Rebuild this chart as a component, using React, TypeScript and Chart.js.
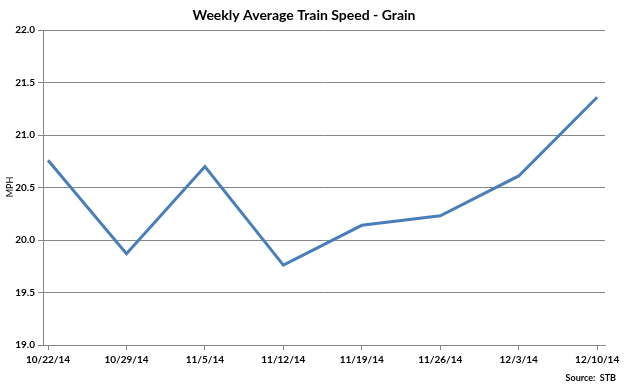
import React, { useEffect, useRef } from "react";
import { Chart, registerables } from "chart.js";

Chart.register(...registerables);

const categories = ["10/22/14", "10/29/14", "11/5/14", "11/12/14", "11/19/14", "11/26/14", "12/3/14", "12/10/14"];
const speeds = [20.76, 19.87, 20.7, 19.76, 20.14, 20.23, 20.61, 21.36];
const yTicks = [19.0, 19.5, 20.0, 20.5, 21.0, 21.5, 22.0];
const titleText = "Weekly Average Train Speed - Grain";
const sourceText = "Source:  STB";
const yAxisTitle = "MPH";

const FONT = "Lato, 'Liberation Sans', sans-serif";

export default function App() {
  const ref = useRef<HTMLCanvasElement | null>(null);
  useEffect(() => {
    document.body.style.margin = "0";
    const canvas = ref.current;
    if (!canvas) return;
    const textPlugin = {
      id: "texts",
      afterDraw(chart: any) {
        const ctx = chart.ctx;
        ctx.save();
        ctx.fillStyle = "#000";
        ctx.font = `bold 14px ${FONT}`;
        ctx.textAlign = "center";
        ctx.textBaseline = "middle";
        ctx.fillText(titleText, 304, 15);
        ctx.font = `bold 9px ${FONT}`;
        ctx.textAlign = "right";
        ctx.fillText(sourceText, 616, 378);
        ctx.translate(10, 187);
        ctx.rotate(-Math.PI / 2);
        ctx.textAlign = "center";
        ctx.font = `9px ${FONT}`;
        ctx.fillText(yAxisTitle, 0, 0);
        ctx.restore();
      },
    };
    const chart = new Chart(canvas, {
      type: "line",
      data: {
        datasets: [
          {
            data: speeds.map((v, i) => ({ x: i, y: v })),
            borderColor: "#4A7EBB",
            borderWidth: 3,
            pointRadius: 0,
            tension: 0,
            fill: false,
          },
        ],
      },
      options: {
        animation: false,
        responsive: false,
        maintainAspectRatio: false,
        layout: { padding: { top: 30, right: 23, bottom: 0, left: 0 } },
        plugins: { legend: { display: false }, title: { display: false }, tooltip: { enabled: false } },
        scales: {
          x: {
            type: "linear",
            min: -0.064,
            max: 7.1,
            afterBuildTicks(scale: any) {
              scale.ticks = categories.map((_, i) => ({ value: i }));
            },
            afterFit(scale: any) {
              scale.height = 43;
            },
            ticks: {
              autoSkip: false,
              maxRotation: 0,
              color: "#000",
              font: { family: FONT, size: 10, weight: "bold" },
              padding: 4,
              callback: (v: any) => categories[Math.round(Number(v))] ?? "",
            },
            grid: { display: true, drawOnChartArea: false, color: "#868686", tickLength: 5 },
            border: { display: true, color: "#868686", width: 1 },
          },
          y: {
            min: 19,
            max: 22,
            afterBuildTicks(scale: any) {
              scale.ticks = yTicks.map((v) => ({ value: v }));
            },
            afterFit(scale: any) {
              scale.width = 43;
            },
            ticks: {
              color: "#000",
              font: { family: FONT, size: 10, weight: "bold" },
              padding: 3,
              callback: (v: any) => Number(v).toFixed(1),
            },
            grid: { color: "#868686", lineWidth: 1, tickLength: 5 },
            border: { display: true, color: "#868686", width: 1 },
          },
        },
      },
      plugins: [textPlugin],
    });
    return () => chart.destroy();
  }, []);
  return (
    <div style={{ width: 628, height: 388, background: "#fff" }}>
      <canvas ref={ref} width={628} height={388} style={{ display: "block" }} />
    </div>
  );
}
